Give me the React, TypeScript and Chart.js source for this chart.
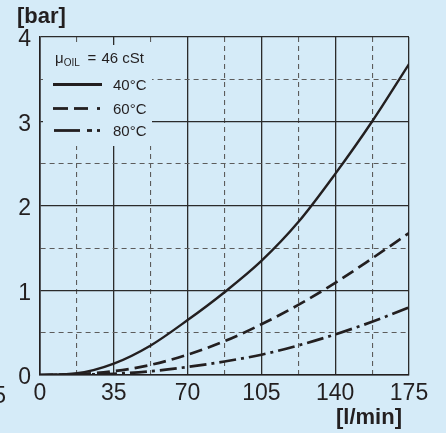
import React, { useEffect, useRef } from "react";
import { Chart, registerables } from "chart.js";

Chart.register(...registerables);

// ---- data ----
const FLOW = [0, 17.5, 35, 52.5, 70, 87.5, 105, 122.5, 140, 157.5, 175];
const P_40C = [0, 0.02, 0.135, 0.35, 0.65, 0.98, 1.35, 1.81, 2.38, 3.0, 3.68];
const P_60C = [0, 0.01, 0.045, 0.12, 0.24, 0.4, 0.6, 0.83, 1.09, 1.38, 1.68];
const P_80C = [0, 0.003, 0.015, 0.045, 0.095, 0.16, 0.24, 0.35, 0.48, 0.63, 0.8];
const SERIES_NAMES = ["40°C", "60°C", "80°C"];

const X_TICKS = [0, 17.5, 35, 52.5, 70, 87.5, 105, 122.5, 140, 157.5, 175];
const X_MAJOR = [0, 35, 70, 105, 140, 175];
const X_LABELS = ["0", "35", "70", "105", "140", "175"];
const Y_TICKS = [0, 0.5, 1, 1.5, 2, 2.5, 3, 3.5, 4];
const Y_MAJOR = [0, 1, 2, 3, 4];
const Y_LABELS = ["0", "1", "2", "3", "4"];

const Y_UNIT = "[bar]";
const X_UNIT = "[l/min]";
const VISC_SYMBOL = "μ";
const VISC_SUB = "OIL";
const VISC_EQ = "=";
const VISC_VALUE = "46 cSt";
const STRAY_LABEL = "5";

const BG = "#d5ebf8";
const INK = "#231f20";
const FONT = '"Liberation Sans", Arial, Helvetica, sans-serif';

const isMajor = (arr: number[], v: number) => arr.some((m) => Math.abs(m - v) < 1e-6);

export default function App() {
  const ref = useRef<HTMLCanvasElement | null>(null);

  useEffect(() => {
    document.body.style.margin = "0";
    document.body.style.background = BG;
    const canvas = ref.current!;

    const decor = {
      id: "decor",
      beforeDraw(chart: any) {
        const c = chart.ctx;
        c.save();
        c.fillStyle = BG;
        c.fillRect(0, 0, chart.width, chart.height);
        c.restore();
      },
      beforeDatasetsDraw(chart: any) {
        const c = chart.ctx;
        const { left, top } = chart.chartArea;
        c.save();
        c.fillStyle = BG;
        c.fillRect(left + 3, top + 8, 109, 101);
        c.restore();
      },
      afterDatasetsDraw(chart: any) {
        const c = chart.ctx;
        const { left, top, right, bottom } = chart.chartArea;
        c.save();
        c.fillStyle = INK;
        c.strokeStyle = INK;
        c.textBaseline = "alphabetic";
        c.textAlign = "left";

        // viscosity line
        const yb = top + 25.5;
        c.font = `15px ${FONT}`;
        c.fillText(VISC_SYMBOL, left + 15, yb);
        const mw = c.measureText(VISC_SYMBOL).width;
        c.font = `10px ${FONT}`;
        c.fillText(VISC_SUB, left + 15 + mw, yb + 3);
        c.font = `15px ${FONT}`;
        c.fillText(VISC_EQ, left + 47.5, yb);
        c.fillText(VISC_VALUE, left + 61.5, yb);

        // legend rows
        const sx0 = left + 13;
        const tx = left + 73;
        const rows = [top + 47.5, top + 71.5, top + 93.5];
        c.lineWidth = 2.8;
        c.lineCap = "butt";
        const segs = [
          [[0, 49]],
          [[0, 15], [21, 35], [44, 47]],
          [[1, 27], [34, 39], [44, 47]],
        ];
        rows.forEach((ry, i) => {
          segs[i].forEach(([a, b]) => {
            c.beginPath();
            c.moveTo(sx0 + a, ry);
            c.lineTo(sx0 + b, ry);
            c.stroke();
          });
          c.font = `15px ${FONT}`;
          c.fillText(SERIES_NAMES[i], tx, ry + 5.3);
        });

        // axis units
        c.font = `bold 22px ${FONT}`;
        c.textAlign = "left";
        c.fillText(Y_UNIT, 17, 23);
        c.textAlign = "right";
        c.fillText(X_UNIT, right - 7, 424);

        // stray clipped label at left
        c.font = `23px ${FONT}`;
        c.textAlign = "right";
        c.fillText(STRAY_LABEL, 6, bottom + 28);
        c.restore();
      },
    };

    const gridColor = (arr: number[]) => (ctx: any) =>
      ctx.tick && isMajor(arr, ctx.tick.value) ? "#2b2b2b" : "#5c5c5c";
    const gridWidth = (arr: number[]) => (ctx: any) =>
      ctx.tick && isMajor(arr, ctx.tick.value) ? 1.3 : 1.1;
    const gridDash = (arr: number[]) => (ctx: any) =>
      !ctx.tick || isMajor(arr, ctx.tick.value) ? [] : [5, 4];

    const mk = (data: number[], label: string, dash: number[], width: number) => ({
      label,
      data: FLOW.map((f, i) => ({ x: f, y: data[i] })),
      borderColor: INK,
      borderWidth: width,
      borderDash: dash,
      pointRadius: 0,
      fill: false,
      cubicInterpolationMode: "monotone" as const,
      borderCapStyle: "butt" as const,
    });

    const chart = new Chart(canvas, {
      type: "line",
      data: {
        datasets: [
          mk(P_40C, SERIES_NAMES[0], [], 2.4),
          mk(P_60C, SERIES_NAMES[1], [13, 6], 2.7),
          mk(P_80C, SERIES_NAMES[2], [17, 5, 3, 5], 2.7),
        ],
      },
      options: {
        animation: false,
        responsive: false,
        devicePixelRatio: window.devicePixelRatio || 1,
        layout: { padding: { top: 37, right: 37, left: 0, bottom: 0 } },
        plugins: { legend: { display: false }, tooltip: { enabled: false } },
        scales: {
          x: {
            type: "linear",
            min: 0,
            max: 175,
            afterBuildTicks: (s: any) => {
              s.ticks = X_TICKS.map((v) => ({ value: v }));
            },
            afterFit: (s: any) => {
              s.height = 58;
            },
            ticks: {
              autoSkip: false,
              maxRotation: 0,
              padding: 5,
              color: INK,
              font: { family: FONT, size: 23 },
              callback: (v: any) => {
                const i = X_MAJOR.findIndex((m) => Math.abs(m - Number(v)) < 1e-6);
                return i >= 0 ? X_LABELS[i] : "";
              },
            },
            grid: {
              drawTicks: false,
              color: gridColor(X_MAJOR),
              lineWidth: gridWidth(X_MAJOR),
            },
            border: { display: true, color: INK, width: 1.6, dash: gridDash(X_MAJOR) },
          },
          y: {
            type: "linear",
            min: 0,
            max: 4,
            afterBuildTicks: (s: any) => {
              s.ticks = Y_TICKS.map((v) => ({ value: v }));
            },
            afterFit: (s: any) => {
              s.width = 40;
            },
            ticks: {
              autoSkip: false,
              padding: 9,
              labelOffset: 3,
              color: INK,
              font: { family: FONT, size: 23 },
              callback: (v: any) => {
                const i = Y_MAJOR.findIndex((m) => Math.abs(m - Number(v)) < 1e-6);
                return i >= 0 ? Y_LABELS[i] : "";
              },
            },
            grid: {
              drawTicks: false,
              color: gridColor(Y_MAJOR),
              lineWidth: gridWidth(Y_MAJOR),
            },
            border: { display: true, color: INK, width: 1.6, dash: gridDash(Y_MAJOR) },
          },
        },
      },
      plugins: [decor],
    });
    return () => chart.destroy();
  }, []);

  return (
    <div style={{ width: 446, height: 433, background: BG }}>
      <canvas ref={ref} width={446} height={433} style={{ display: "block", width: 446, height: 433 }} />
    </div>
  );
}
